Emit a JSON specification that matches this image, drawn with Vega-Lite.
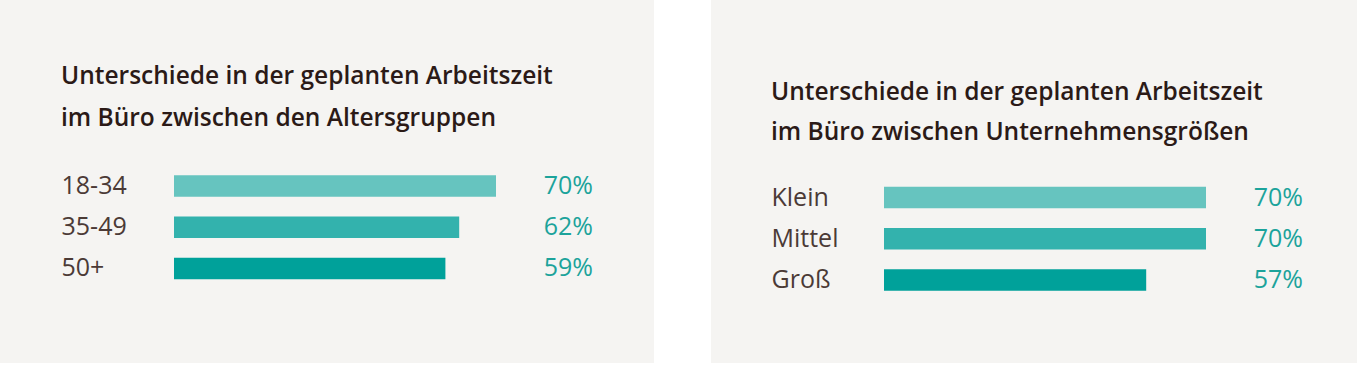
{
  "$schema": "https://vega.github.io/schema/vega-lite/v6.json",
  "background": "#ffffff",
  "padding": 0,
  "spacing": 57,
  "config": {"view": {"fill": "#f5f4f2", "stroke": null}, "font": "Open Sans"},
  "resolve": {"scale": {"x": "independent", "y": "independent", "color": "independent"}},
  "hconcat": [
    {
      "width": 654,
      "height": 363,
      "title": {
        "text": ["Unterschiede in der geplanten Arbeitszeit", "im Büro zwischen den Altersgruppen"],
        "anchor": "start", "frame": "group", "dx": 61, "offset": -150,
        "baseline": "alphabetic", "lineHeight": 41.5,
        "fontSize": 24.5, "fontWeight": 600, "color": "#2b1a17", "font": "Open Sans"
      },
      "data": {"values": [
        {"group": "18-34", "share": 0.70},
        {"group": "35-49", "share": 0.62},
        {"group": "50+", "share": 0.59}
      ]},
      "encoding": {
        "y": {"field": "group", "type": "nominal", "sort": null,
          "scale": {"paddingInner": 0, "paddingOuter": 0, "range": [165.4, 289.1]},
          "axis": {"title": null, "orient": "left", "domain": false, "ticks": false, "tickSize": 0, "labelPadding": 0, "offset": -61, "labelAlign": "left", "labelBaseline": "middle", "labelFontSize": 25, "labelColor": "#4b3a36", "labelFont": "Open Sans", "grid": false}}
      },
      "layer": [
        {
          "mark": {"type": "bar", "height": {"band": 0.52}},
          "encoding": {
            "x": {"field": "share", "type": "quantitative", "scale": {"domain": [0, 1], "range": [174, 634], "nice": false}, "axis": null},
            "color": {"field": "group", "type": "nominal", "sort": null, "scale": {"range": ["#66c4bf", "#33b2ad", "#00a19a"]}, "legend": null}
          }
        },
        {
          "mark": {"type": "text", "align": "right", "baseline": "middle", "fontSize": 25, "color": "#1ca39b", "font": "Open Sans"},
          "encoding": {
            "x": {"datum": 0.9109, "type": "quantitative"},
            "text": {"field": "share", "type": "quantitative", "format": ".0%"}
          }
        }
      ]
    },
    {
      "width": 646,
      "height": 363,
      "title": {
        "text": ["Unterschiede in der geplanten Arbeitszeit", "im Büro zwischen Unternehmensgrößen"],
        "anchor": "start", "frame": "group", "dx": 60, "offset": -164,
        "baseline": "alphabetic", "lineHeight": 40,
        "fontSize": 24.5, "fontWeight": 600, "color": "#2b1a17", "font": "Open Sans"
      },
      "data": {"values": [
        {"group": "Klein", "share": 0.70},
        {"group": "Mittel", "share": 0.70},
        {"group": "Groß", "share": 0.57}
      ]},
      "encoding": {
        "y": {"field": "group", "type": "nominal", "sort": null,
          "scale": {"paddingInner": 0, "paddingOuter": 0, "range": [176.9, 300.6]},
          "axis": {"title": null, "orient": "left", "domain": false, "ticks": false, "tickSize": 0, "labelPadding": 0, "offset": -60, "labelAlign": "left", "labelBaseline": "middle", "labelFontSize": 25, "labelColor": "#4b3a36", "labelFont": "Open Sans", "grid": false}}
      },
      "layer": [
        {
          "mark": {"type": "bar", "height": {"band": 0.52}},
          "encoding": {
            "x": {"field": "share", "type": "quantitative", "scale": {"domain": [0, 1], "range": [173, 633], "nice": false}, "axis": null},
            "color": {"field": "group", "type": "nominal", "sort": null, "scale": {"range": ["#66c4bf", "#33b2ad", "#00a19a"]}, "legend": null}
          }
        },
        {
          "mark": {"type": "text", "align": "right", "baseline": "middle", "fontSize": 25, "color": "#1ca39b", "font": "Open Sans"},
          "encoding": {
            "x": {"datum": 0.9109, "type": "quantitative"},
            "text": {"field": "share", "type": "quantitative", "format": ".0%"}
          }
        }
      ]
    }
  ]
}
